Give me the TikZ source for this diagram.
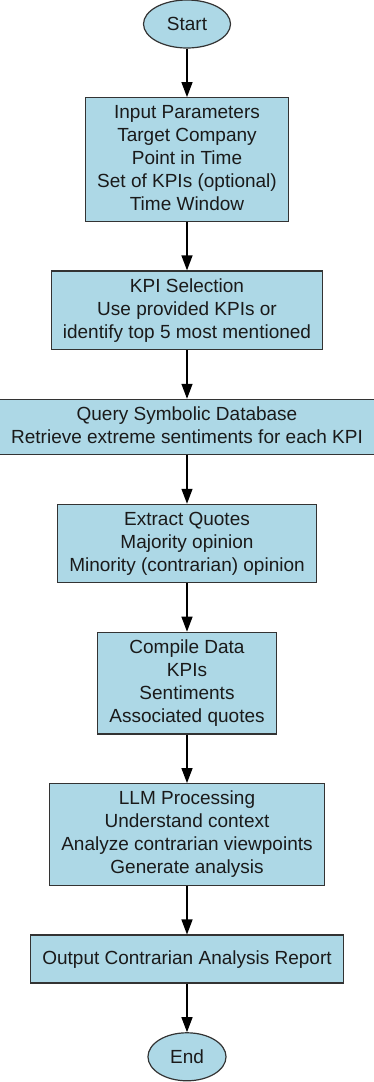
\documentclass[tikz,border=0pt]{standalone}
\usepackage{fontspec}
\setmainfont{Liberation Sans}
\usepackage{xcolor}
\usepackage{tikz}
\usetikzlibrary{shapes,arrows.meta,positioning}

\definecolor{boxfill}{HTML}{ADD8E6}
\definecolor{boxline}{HTML}{333333}
\definecolor{boxtext}{HTML}{1A1A1A}
\newcommand{\boxdepth}{\rule[-3.5pt]{0pt}{3.5pt}}

\begin{document}
\begin{tikzpicture}[
    node distance=48.5pt,
    stepbox/.style={rectangle, draw=boxline, line width=1.2pt, fill=boxfill, text=boxtext, align=center,
        font=\fontsize{19}{23}\selectfont, inner xsep=11.5pt, inner ysep=7.5pt, minimum height=48pt,
        execute at end node=\boxdepth},
    termbox/.style={ellipse, draw=boxline, line width=1.2pt, fill=boxfill, text=boxtext,
        font=\fontsize{19}{23}\selectfont, inner xsep=10.7pt, inner ysep=2pt, minimum height=48pt},
    flow/.style={-{Triangle[length=15pt,width=11pt]}, line width=1.3pt, black}
]
\useasboundingbox (0,0) rectangle (374pt,-1082pt);
\node[termbox] (start) at (187pt,-24pt) {Start};
\node[stepbox, below=of start] (s1) {Input Parameters\\Target Company\\Point in Time\\Set of KPIs (optional)\\Time Window};
\node[stepbox, below=of s1] (s2) {KPI Selection\\Use provided KPIs or\\identify top 5 most mentioned};
\node[stepbox, below=of s2] (s3) {Query Symbolic Database\\Retrieve extreme sentiments for each KPI};
\node[stepbox, below=of s3] (s4) {Extract Quotes\\Majority opinion\\Minority (contrarian) opinion};
\node[stepbox, below=of s4] (s5) {Compile Data\\KPIs\\Sentiments\\Associated quotes};
\node[stepbox, below=of s5] (s6) {LLM Processing\\Understand context\\Analyze contrarian viewpoints\\Generate analysis};
\node[stepbox, below=of s6] (s7) {Output Contrarian Analysis Report};
\node[termbox, below=of s7] (stop) {End};

\draw[flow] (start) -- (s1);
\draw[flow] (s1) -- (s2);
\draw[flow] (s2) -- (s3);
\draw[flow] (s3) -- (s4);
\draw[flow] (s4) -- (s5);
\draw[flow] (s5) -- (s6);
\draw[flow] (s6) -- (s7);
\draw[flow] (s7) -- (stop);
\end{tikzpicture}
\end{document}
